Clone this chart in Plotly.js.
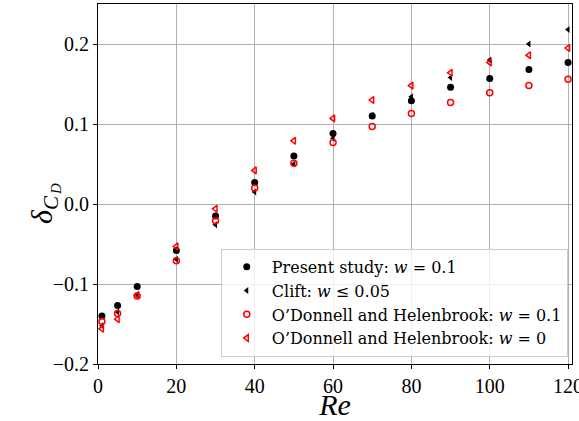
<!DOCTYPE html>
<html>
<head>
<meta charset="utf-8">
<script src="https://cdn.plot.ly/plotly-3.0.1.min.js"></script>
<style>body{margin:0;padding:0;background:#fff}#chart{width:579px;height:421px}</style>
</head>
<body>
<div id="chart"></div>
<script>
const re = [1, 5, 10, 20, 30, 40, 50, 60, 70, 80, 90, 100, 110, 120];
const presentStudy = [-0.140, -0.127, -0.103, -0.058, -0.015, 0.027, 0.060, 0.088, 0.110, 0.129, 0.146, 0.157, 0.168, 0.177];
const clift = [-0.152, -0.135, -0.113, -0.069, -0.026, 0.015, 0.050, 0.082, 0.111, 0.134, 0.158, 0.180, 0.200, 0.218];
const odhW01 = [-0.147, -0.137, -0.115, -0.071, -0.021, 0.020, 0.051, 0.077, 0.097, 0.113, 0.127, 0.139, 0.148, 0.156];
const odhW0 = [-0.156, -0.144, -0.114, -0.053, -0.006, 0.042, 0.079, 0.107, 0.130, 0.148, 0.164, 0.177, 0.186, 0.195];
const xTicks = [0, 20, 40, 60, 80, 100, 120];
const yTicks = [-0.2, -0.1, 0.0, 0.1, 0.2];
const yTickText = ['\u22120.2', '\u22120.1', '0.0', '0.1', '0.2'];
const names = ['Present study: <i>w</i> = 0.1', 'Clift: <i>w</i> \u2264 0.05', 'O\u2019Donnell and Helenbrook: <i>w</i> = 0.1', 'O\u2019Donnell and Helenbrook: <i>w</i> = 0'];

const FONT = 'Liberation Serif, DejaVu Serif, serif';
const LFONT = 'DejaVu Serif, serif';
const traces = [
  {x: re, y: presentStudy, name: names[0], mode: 'markers', type: 'scatter',
   marker: {symbol: 'circle', size: 7, color: 'black'}},
  {x: re, y: clift, name: names[1], mode: 'markers', type: 'scatter',
   marker: {symbol: 'triangle-left', size: 6, color: 'black'}},
  {x: re, y: odhW01, name: names[2], mode: 'markers', type: 'scatter',
   marker: {symbol: 'circle-open', size: 6, color: 'red', line: {width: 1.5, color: 'red'}}},
  {x: re, y: odhW0, name: names[3], mode: 'markers', type: 'scatter',
   marker: {symbol: 'triangle-left-open', size: 6, color: 'red', line: {width: 1.5, color: 'red'}}}
];

const layout = {
  width: 579, height: 421,
  margin: {l: 98, r: 7, t: 4, b: 57},
  paper_bgcolor: 'white', plot_bgcolor: 'white',
  font: {family: FONT, color: 'black', size: 20},
  showlegend: true,
  legend: {x: 0.259, y: 0.02, xanchor: 'left', yanchor: 'bottom',
    bgcolor: 'rgba(255,255,255,0.8)', bordercolor: '#cccccc', borderwidth: 1,
    font: {family: LFONT, size: 16, color: 'black'}, itemwidth: 40, tracegroupgap: 0},
  xaxis: {range: [0, 121], tickvals: xTicks, ticktext: xTicks.map(String),
    showgrid: true, gridcolor: '#b0b0b0', gridwidth: 1, zeroline: false,
    showline: true, linecolor: 'black', linewidth: 1, mirror: true,
    ticks: 'outside', ticklen: 4, tickcolor: 'black', ticklabeloverflow: 'allow',
    tickfont: {family: FONT, size: 20},
    title: {text: '<i>Re</i>', font: {family: FONT, size: 30}, standoff: 4}},
  yaxis: {range: [-0.2, 0.25], tickvals: yTicks, ticktext: yTickText,
    showgrid: true, gridcolor: '#b0b0b0', gridwidth: 1, zeroline: false,
    showline: true, linecolor: 'black', linewidth: 1, mirror: true,
    ticks: 'outside', ticklen: 4, tickcolor: 'black',
    tickfont: {family: FONT, size: 20}},
  annotations: [
    {text: '<i>\u03b4<sub>C</sub></i>', xref: 'paper', yref: 'paper',
     x: (44 - 98) / 474, y: (364 - 210) / 360, xanchor: 'center', yanchor: 'middle', textangle: -90,
     showarrow: false, font: {family: FONT, size: 30, color: 'black'}},
    {text: '<i>D</i>', xref: 'paper', yref: 'paper',
     x: (56 - 98) / 474, y: (364 - 189) / 360, xanchor: 'center', yanchor: 'middle', textangle: -90,
     showarrow: false, font: {family: FONT, size: 15, color: 'black'}}
  ]
};

Plotly.newPlot('chart', traces, layout, {displayModeBar: false, staticPlot: true});
</script>
</body>
</html>
